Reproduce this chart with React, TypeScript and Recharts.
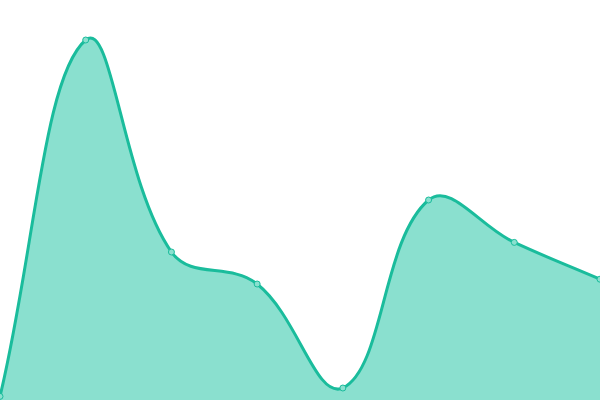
import { AreaChart, Area, XAxis, YAxis } from "recharts"

const labels = ["A", "B", "C", "D", "E", "F", "G", "H"]
const values = [0.9, 90, 37, 29, 3, 50, 39.4, 30.2]

const data = labels.map((name, i) => ({ name, value: values[i] }))

const W = 600
const H = 400
const TENSION = 0.4

// bezier spline like Chart.js (tension 0.4, control points clamped to the plot)
function splineCurve(context: any) {
  let pts: [number, number][] = []
  let line = NaN
  const clamp = (v: number, lo: number, hi: number) => Math.max(lo, Math.min(hi, v))

  const draw = () => {
    const n = pts.length
    if (!n) return
    const ctrl = pts.map((cur, i) => {
      const prev = pts[i - 1] || cur
      const next = pts[i + 1] || cur
      const d01 = Math.hypot(cur[0] - prev[0], cur[1] - prev[1])
      const d12 = Math.hypot(next[0] - cur[0], next[1] - cur[1])
      let s01 = d01 / (d01 + d12)
      let s12 = d12 / (d01 + d12)
      if (isNaN(s01)) s01 = 0
      if (isNaN(s12)) s12 = 0
      const fa = TENSION * s01
      const fb = TENSION * s12
      const dx = next[0] - prev[0]
      const dy = next[1] - prev[1]
      return {
        px: clamp(cur[0] - fa * dx, 0, W),
        py: clamp(cur[1] - fa * dy, 0, H),
        nx: clamp(cur[0] + fb * dx, 0, W),
        ny: clamp(cur[1] + fb * dy, 0, H)
      }
    })
    if (line) context.lineTo(pts[0][0], pts[0][1])
    else context.moveTo(pts[0][0], pts[0][1])
    for (let i = 1; i < n; i++) {
      const a = ctrl[i - 1]
      const b = ctrl[i]
      context.bezierCurveTo(a.nx, a.ny, b.px, b.py, pts[i][0], pts[i][1])
    }
  }

  return {
    areaStart() { line = 0 },
    areaEnd() { line = NaN },
    lineStart() { pts = [] },
    lineEnd() {
      draw()
      if (line || (line !== 0 && pts.length === 1)) context.closePath()
      line = 1 - line
    },
    point(x: number, y: number) { pts.push([+x, +y]) }
  }
}

export default function App() {
  return (
    <div style={{ position: "absolute", top: 0, left: 0, width: W, height: H, background: "#fff" }}>
      <AreaChart width={W} height={H} data={data} margin={{ top: 0, right: 0, bottom: 0, left: 0 }}>
        <XAxis dataKey="name" hide />
        <YAxis hide domain={[0, 100]} />
        <Area
          type={splineCurve as any}
          dataKey="value"
          stroke="#1abc9c"
          strokeWidth={3}
          fill="#8ae0cf"
          fillOpacity={1}
          dot={{ r: 3, fill: "#8ae0cf", stroke: "#1abc9c", strokeWidth: 1, fillOpacity: 1 }}
          activeDot={false}
          isAnimationActive={false}
        />
      </AreaChart>
    </div>
  )
}
